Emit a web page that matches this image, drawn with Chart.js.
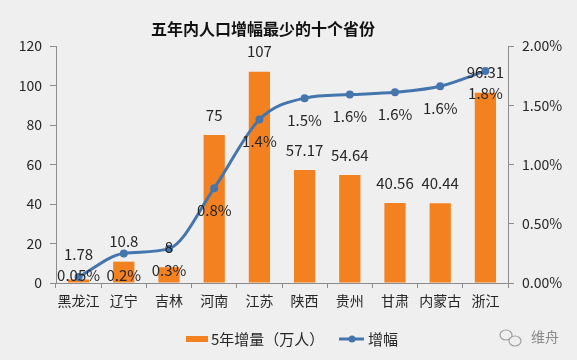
<!DOCTYPE html>
<html>
<head>
<meta charset="utf-8">
<script src="https://cdn.jsdelivr.net/npm/chart.js@4"></script>
<style>
  html, body { margin: 0; padding: 0; background: #efefef; }
  #wrap { position: relative; width: 577px; height: 360px; }
  canvas { display: block; }
</style>
</head>
<body>
<div id="wrap"><canvas id="c" width="577" height="360"></canvas></div>
<script>
// ---- data ----
const titleText = '五年内人口增幅最少的十个省份';
const categories = ['黑龙江', '辽宁', '吉林', '河南', '江苏', '陕西', '贵州', '甘肃', '内蒙古', '浙江'];
const increase = [1.78, 10.8, 8, 75, 107, 57.17, 54.64, 40.56, 40.44, 96.31];
const increaseLabels = ['1.78', '10.8', '8', '75', '107', '57.17', '54.64', '40.56', '40.44', '96.31'];
const growthRate = [0.05, 0.25, 0.29, 0.80, 1.38, 1.56, 1.59, 1.61, 1.66, 1.79];
const growthLabels = ['0.05%', '0.2%', '0.3%', '0.8%', '1.4%', '1.5%', '1.6%', '1.6%', '1.6%', '1.8%'];
const seriesNames = ['5年增量（万人）', '增幅'];
const sourceText = '维舟';

const FONT = '"Noto Sans CJK SC", "Noto Sans", sans-serif';
const ORANGE = '#F48120';
const BLUE = '#4575AD';
const TEXT = '#262626';

const labelPlugin = {
  id: 'labels',
  afterDatasetsDraw(chart) {
    const ctx = chart.ctx;
    const pts = chart.getDatasetMeta(0).data;
    const bars = chart.getDatasetMeta(1).data;
    const bottom = chart.chartArea.bottom;
    ctx.save();
    ctx.font = '15px ' + FONT;
    ctx.fillStyle = TEXT;
    ctx.textAlign = 'center';
    ctx.textBaseline = 'middle';
    for (let i = 0; i < categories.length; i++) {
      const x = bars[i].x;
      const pctY = Math.min(pts[i].y + 22, bottom - 8);
      let barY = bars[i].y - 20;
      if (pctY >= barY && pctY - barY < 18) barY = pctY - 21;
      ctx.fillText(increaseLabels[i], x, barY);
      ctx.fillText(growthLabels[i], x, pctY);
    }
    ctx.restore();
  }
};

const decorPlugin = {
  id: 'decor',
  afterDraw(chart) {
    const ctx = chart.ctx;
    ctx.save();
    // title
    ctx.font = 'bold 16px ' + FONT;
    ctx.fillStyle = '#111';
    ctx.textAlign = 'center';
    ctx.textBaseline = 'middle';
    ctx.fillText(titleText, 263, 29);
    // legend
    const ly = 339;
    ctx.fillStyle = ORANGE;
    ctx.fillRect(186, ly - 3, 22, 6);
    ctx.font = '15px ' + FONT;
    ctx.fillStyle = TEXT;
    ctx.textAlign = 'left';
    ctx.fillText(seriesNames[0], 211, ly);
    ctx.strokeStyle = BLUE;
    ctx.lineWidth = 3;
    ctx.beginPath();
    ctx.moveTo(339, ly);
    ctx.lineTo(364, ly);
    ctx.stroke();
    ctx.fillStyle = BLUE;
    ctx.beginPath();
    ctx.arc(352, ly, 3.5, 0, Math.PI * 2);
    ctx.fill();
    ctx.fillStyle = TEXT;
    ctx.fillText(seriesNames[1], 368, ly);
    // source mark
    ctx.strokeStyle = '#a0a0a0';
    ctx.lineWidth = 1.2;
    ctx.beginPath(); ctx.ellipse(506, 335, 6, 5, 0, 0, Math.PI * 2); ctx.stroke();
    ctx.fillStyle = '#efefef';
    ctx.beginPath(); ctx.ellipse(515, 341, 6, 5, 0, 0, Math.PI * 2); ctx.fill(); ctx.stroke();
    ctx.font = '14px ' + FONT;
    ctx.fillStyle = '#8a8a8a';
    ctx.fillText(sourceText, 531, 337);
    ctx.restore();
  }
};

new Chart(document.getElementById('c'), {
  data: {
    labels: categories,
    datasets: [
      {
        type: 'line',
        label: seriesNames[1],
        data: growthRate,
        yAxisID: 'y1',
        borderColor: BLUE,
        backgroundColor: BLUE,
        borderWidth: 3,
        pointRadius: 4,
        pointBackgroundColor: BLUE,
        pointBorderWidth: 0,
        tension: 0.4,
        cubicInterpolationMode: 'monotone',
        order: 0
      },
      {
        type: 'bar',
        label: seriesNames[0],
        data: increase,
        yAxisID: 'y',
        backgroundColor: ORANGE,
        barPercentage: 0.47,
        categoryPercentage: 1.0,
        order: 1
      }
    ]
  },
  options: {
    responsive: false,
    animation: false,
    events: [],
    layout: { padding: { top: 46, bottom: 47, left: 0, right: 0 } },
    plugins: { legend: { display: false }, title: { display: false }, tooltip: { enabled: false } },
    scales: {
      x: {
        grid: { drawOnChartArea: false, color: '#8c8c8c', tickLength: 5, offset: true },
        border: { color: '#8c8c8c' },
        ticks: { color: TEXT, font: { size: 14, family: FONT }, padding: 4, maxRotation: 0, autoSkip: false },
        afterFit(s) { s.height = 30; }
      },
      y: {
        position: 'left',
        min: 0, max: 120,
        ticks: { stepSize: 20, color: TEXT, font: { size: 14, family: FONT }, padding: 8 },
        grid: { drawOnChartArea: false, color: '#8c8c8c', tickLength: 6 },
        border: { color: '#8c8c8c' },
        afterFit(s) { s.width = 56; }
      },
      y1: {
        position: 'right',
        min: 0, max: 2,
        ticks: { stepSize: 0.5, color: TEXT, font: { size: 14, family: FONT }, padding: 8,
          callback: v => v.toFixed(2) + '%' },
        grid: { drawOnChartArea: false, color: '#8c8c8c', tickLength: 6 },
        border: { color: '#8c8c8c' },
        afterFit(s) { s.width = 69; }
      }
    }
  },
  plugins: [labelPlugin, decorPlugin]
});
</script>
</body>
</html>
